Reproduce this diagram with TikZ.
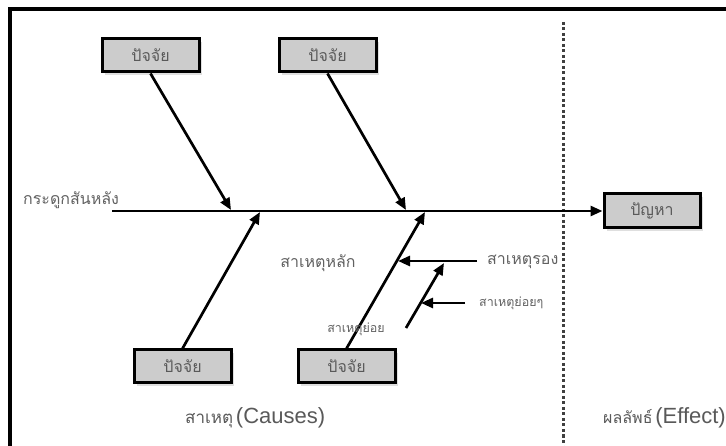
\documentclass[tikz,border=0pt]{standalone}
\usepackage{fontspec}
\setmainfont{Liberation Sans}
\newfontfamily\thai[Script=Thai]{Loma}
\usetikzlibrary{arrows.meta,shadows}
\begin{document}
\begin{tikzpicture}[x=1pt,y=-1pt,
  factor/.style={draw=black,line width=3pt,fill=gray!40,minimum width=97pt,minimum height=33pt,inner sep=0pt,
    font=\thai\fontsize{16}{18}\selectfont,text=black!65,
    drop shadow={opacity=0.25,shadow xshift=3pt,shadow yshift=-3pt}},
  arr/.style={line width=2.7pt,-{Triangle[length=12pt,width=10pt]}},
  lbl/.style={text=black!62,inner sep=0pt,font=\thai\fontsize{16}{18}\selectfont},
  small/.style={text=black!62,inner sep=0pt,font=\thai\fontsize{12.5}{14}\selectfont},
]
\useasboundingbox (0,0) rectangle (726,446);
\begin{scope}
  \clip (0,0) rectangle (726,446);
  \draw[line width=3.2pt] (10,9) rectangle (780,500);
\end{scope}

% factor boxes
\node[factor] (f1) at (150.5,55.5) {ปัจจัย};
\node[factor] (f2) at (327.5,55.5) {ปัจจัย};
\node[factor] (f3) at (182.5,366.5) {ปัจจัย};
\node[factor] (f4) at (346.5,366.5) {ปัจจัย};
\node[factor,minimum width=96pt,minimum height=34pt] (eff) at (652,211) {ปัญหา};

% dotted divider
\coordinate (d0) at (563,22);
\coordinate (d1) at (563,446);
\draw[line width=3pt,black!75,dash pattern=on 3pt off 2.5pt] (d0) -- (d1);

% spine
\coordinate (s0) at (112,211);
\draw[arr] (s0) -- (eff.west);
\node[lbl,anchor=west] (spl) at (23,200) {กระดูกสันหลัง};

% main branches
\coordinate (j1) at (231,210);
\coordinate (j2) at (406,210);
\coordinate (j3) at (260,212);
\coordinate (j4) at (425,212);
\draw[arr] (f1.south) -- (j1);
\draw[arr] (f2.south) -- (j2);
\draw[arr] (f3.north) -- (j3);
\draw[arr] (f4.north) -- (j4);

% secondary cause
\coordinate (c1) at (477,261);
\coordinate (c1e) at (398,261);
\draw[arr] (c1) -- (c1e);
\node[lbl,anchor=west] (l2) at (487,262) {สาเหตุรอง};

% sub cause
\coordinate (b0) at (406,328);
\coordinate (b1) at (444,263);
\draw[arr] (b0) -- (b1);
\coordinate (c2) at (465,303);
\coordinate (c2e) at (421,303);
\draw[arr] (c2) -- (c2e);
\node[small,anchor=west] (l3) at (479,303) {สาเหตุย่อยๆ};

\node[lbl] (l1) at (318,263) {สาเหตุหลัก};
\node[small] (l4) at (356,329) {สาเหตุย่อย};

% bottom captions
\node[text=black!65,inner sep=0pt,anchor=west] (cause) at (185,418) {{\thai\fontsize{17}{19}\selectfont สาเหตุ} {\fontsize{22}{24}\selectfont (Causes)}};
\node[text=black!65,inner sep=0pt,anchor=east] (effect) at (726,418) {{\thai\fontsize{16}{18}\selectfont ผลลัพธ์} {\fontsize{22}{24}\selectfont (Effect)}};
\end{tikzpicture}
\end{document}
